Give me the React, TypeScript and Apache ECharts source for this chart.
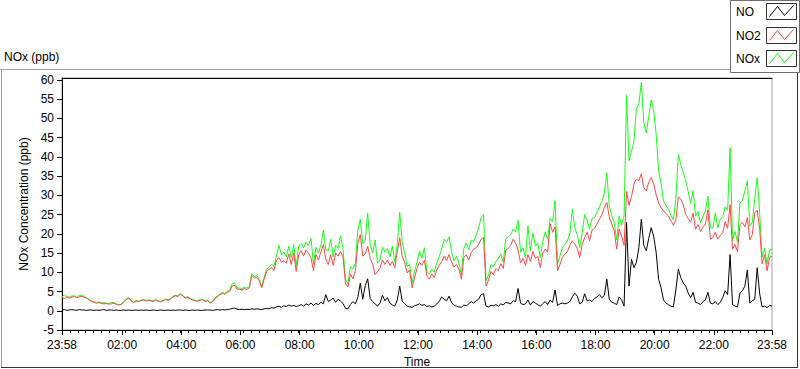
import React, { useEffect, useRef } from "react";
import * as echarts from "echarts";

// Time axis: minutes from midnight; first sample at 23:58 (-2), every 5 min
const START_MIN = -2;
const STEP_MIN = 5;

const NO2_VALUES = [
  3.4,3.2,3.6,3.3,3.5,3.7,3.4,3.6,3.8,3.5,3.3,2.8,
  2.4,2.2,2.0,2.1,1.9,1.8,1.9,1.7,1.8,2.0,1.6,1.5,
  1.6,2.2,2.9,3.3,2.6,2.1,2.5,2.4,2.6,2.8,2.5,2.7,
  2.6,2.4,2.8,2.5,2.3,2.6,2.9,2.7,3.0,3.6,3.9,3.7,
  4.3,3.8,3.3,3.5,3.1,2.8,2.6,2.5,2.7,2.9,2.4,2.6,
  2.0,2.3,3.1,3.6,4.1,4.5,4.3,4.8,5.0,6.4,6.6,5.6,
  5.6,5.4,5.8,5.5,6.0,9.2,8.5,8.7,7.8,6.0,8.2,10.2,
  10.8,11.2,10.5,13.2,13.8,12.6,13.0,12.4,14.8,12.0,15.0,10.2,
  14.5,15.6,14.2,15.8,14.9,13.8,10.4,14.6,13.2,15.3,17.2,13.5,
  12.0,14.6,11.8,15.0,14.2,15.4,13.9,7.0,6.2,9.6,8.3,10.4,
  17.5,19.8,14.2,14.8,16.8,13.6,12.2,9.4,10.2,11.0,13.2,12.0,
  13.2,11.8,12.8,11.2,15.4,19.0,14.2,12.6,9.8,10.6,6.0,8.6,
  11.0,12.6,11.8,13.2,9.0,8.2,9.6,8.6,10.6,11.8,12.8,14.2,
  13.0,14.6,12.8,11.4,12.0,10.8,8.2,13.8,14.6,13.2,15.2,16.0,
  16.4,17.2,18.6,19.0,6.4,8.0,10.2,9.4,11.0,10.4,12.2,11.0,
  15.8,16.2,17.0,18.6,17.6,15.8,12.4,13.6,11.8,14.6,12.8,15.4,
  13.6,14.2,11.2,15.0,16.0,15.2,22.6,20.4,21.8,10.4,12.0,14.0,
  14.6,15.4,17.0,18.2,17.4,16.2,13.8,17.2,19.0,20.4,18.2,21.0,
  21.4,22.6,23.8,25.0,26.8,28.2,24.4,22.6,20.8,16.0,21.2,19.4,
  17.0,31.0,27.4,29.6,33.0,34.2,33.8,35.6,32.0,31.2,33.4,34.6,
  33.0,30.2,28.0,26.8,26.0,25.2,24.6,23.4,22.2,23.6,29.6,29.0,
  27.6,25.0,24.0,23.0,25.4,21.2,22.4,20.6,21.8,22.6,26.2,18.6,
  19.0,20.4,18.6,19.6,20.2,23.2,21.4,27.6,16.0,17.2,15.4,22.4,
  23.0,21.8,24.2,18.4,19.8,25.4,26.2,21.2,12.2,14.6,10.4,13.8,
  14.2,
];

const NOX_VALUES = [
  3.6,4.2,3.7,3.5,3.8,3.9,3.5,4.0,4.0,3.7,3.4,3.0,
  2.6,2.3,2.2,2.2,2.1,2.1,2.0,1.9,2.2,2.1,1.8,1.6,
  1.7,2.4,3.0,3.5,2.7,2.2,2.7,2.5,2.8,2.9,2.7,2.8,
  2.7,2.6,2.9,2.6,2.5,2.7,3.0,2.9,3.1,3.8,4.0,3.9,
  4.5,3.9,3.5,3.6,3.2,3.0,2.7,2.7,2.8,3.0,2.6,2.8,
  2.2,2.4,3.3,3.9,4.3,4.8,4.5,5.1,5.4,7.0,7.3,6.0,
  5.9,5.8,6.1,5.9,6.3,9.7,8.9,9.2,8.2,6.3,8.7,10.8,
  11.3,12.0,11.6,14.3,17.0,14.5,15.2,14.0,16.8,13.8,17.2,11.5,
  16.8,17.5,16.4,17.8,16.9,18.8,12.1,16.5,15.0,17.0,21.0,15.8,
  15.5,18.6,14.0,17.0,16.2,19.5,16.0,8.2,7.0,11.4,10.8,12.3,
  21.0,23.8,17.5,18.0,25.4,17.2,15.0,18.4,12.4,13.2,16.5,15.2,
  16.2,14.0,16.8,12.6,17.2,25.6,17.8,15.0,11.5,12.0,7.2,10.2,
  12.6,15.5,13.6,16.4,10.2,9.6,10.8,10.0,12.4,14.0,16.0,18.6,
  17.8,19.2,15.4,13.0,14.2,12.4,9.4,16.2,17.6,15.8,18.4,18.0,
  19.6,21.5,24.2,25.0,7.8,9.2,12.0,11.4,12.8,13.6,14.8,12.6,
  18.8,19.2,19.8,21.2,20.5,23.5,15.2,16.4,13.8,22.0,15.6,20.2,
  16.8,17.6,13.8,18.0,20.4,18.6,24.0,23.2,28.6,12.2,14.2,16.6,
  17.2,18.2,20.0,26.4,21.6,19.8,16.4,20.2,25.0,23.4,21.2,24.0,
  24.2,25.6,27.0,28.4,30.6,35.8,27.2,24.8,23.0,18.4,24.6,22.2,
  24.8,56.0,39.0,41.5,44.0,52.6,53.8,59.4,49.0,46.2,50.5,54.8,
  52.0,46.0,36.4,33.2,28.4,27.4,26.4,24.8,23.6,29.0,40.6,38.0,
  36.0,33.8,31.0,28.0,31.2,24.6,25.8,22.8,24.6,26.0,29.8,21.6,
  21.4,25.4,21.6,23.8,24.4,27.0,26.2,42.4,18.2,20.6,17.8,28.0,
  28.6,31.2,33.8,22.0,23.0,29.0,34.6,25.4,14.0,16.2,12.2,15.8,
  16.0,
];

const NO_VALUES = [
  0.2,0.3,0.1,0.2,0.3,0.2,0.1,0.3,0.2,0.2,0.1,0.2,
  0.2,0.1,0.2,0.1,0.2,0.3,0.1,0.2,0.2,0.1,0.2,0.1,
  0.1,0.2,0.1,0.2,0.1,0.1,0.2,0.1,0.2,0.1,0.2,0.1,
  0.1,0.2,0.1,0.1,0.2,0.1,0.1,0.2,0.1,0.2,0.1,0.2,
  0.2,0.1,0.2,0.1,0.1,0.2,0.1,0.2,0.1,0.1,0.2,0.2,
  0.2,0.1,0.2,0.3,0.2,0.3,0.2,0.3,0.4,0.6,0.7,0.4,
  0.3,0.4,0.3,0.4,0.3,0.5,0.4,0.5,0.4,0.3,0.5,0.6,
  0.5,0.8,0.7,1.0,1.2,0.9,1.3,1.1,1.5,1.2,1.4,1.1,
  1.3,1.6,1.2,1.8,1.5,2.0,1.4,1.9,1.6,2.2,1.8,4.2,
  2.4,2.8,3.3,2.2,3.0,2.5,1.9,0.6,0.5,1.6,2.4,1.8,
  3.5,7.2,3.0,6.5,8.3,3.2,2.4,1.8,1.2,2.0,4.0,2.6,
  3.4,2.0,1.5,1.2,2.8,6.4,2.5,1.8,1.2,1.0,0.9,1.3,
  1.5,1.8,1.4,1.6,1.1,1.3,1.0,1.2,1.8,2.4,3.6,3.0,
  2.6,3.8,2.2,1.4,1.2,1.0,0.9,1.5,1.3,1.8,2.4,2.0,
  2.6,3.0,4.2,4.4,1.2,1.0,1.4,1.3,1.6,1.2,1.8,1.5,
  2.2,2.0,1.8,2.6,2.4,5.8,2.0,1.6,1.8,2.8,1.5,2.4,
  2.0,1.6,1.2,1.8,2.4,1.6,2.8,2.2,5.4,1.4,1.8,2.0,
  1.8,2.0,2.4,3.6,4.6,3.8,1.8,2.2,4.4,2.6,2.8,2.4,
  3.2,3.6,4.2,3.4,4.0,8.2,3.0,2.2,2.0,1.6,3.6,2.8,
  1.2,23.0,6.4,13.4,11.2,12.6,16.4,23.8,17.0,15.6,18.8,21.6,
  19.4,15.2,8.2,6.0,2.8,2.0,1.6,1.2,1.0,5.4,10.8,8.6,
  7.2,6.4,4.6,3.4,4.8,2.2,2.0,1.6,2.4,2.8,4.8,2.0,
  1.8,2.4,1.6,2.2,3.4,5.2,4.2,14.6,1.6,1.2,1.0,4.6,
  5.2,6.4,10.6,2.0,2.6,3.0,11.2,4.4,1.0,1.2,0.8,1.4,
  1.2,
];

const X_MIN = -2;
const X_MAX = 1438;
const X_MAJOR_TICKS = [-2, 120, 240, 360, 480, 600, 720, 840, 960, 1080, 1200, 1320, 1438];
const X_MINOR_STEP = 16;
const Y_TICKS = [-5, 0, 5, 10, 15, 20, 25, 30, 35, 40, 45, 50, 55, 60];
const Y_MIN = -5;
const Y_MAX = 60.5;

const SERIES_NAMES = ["NO", "NO2", "NOx"];
const SERIES_COLORS = ["#000000", "#ff4646", "#14ff14"];

const FONT = "Liberation Sans, Arial, sans-serif";

function toPairs(values: number[]) {
  return values.map((v, i) => [START_MIN + STEP_MIN * i, v]);
}

function fmtTime(v: number) {
  const m = ((Math.round(v) % 1440) + 1440) % 1440;
  const hh = Math.floor(m / 60);
  const mm = m % 60;
  return String(hh).padStart(2, "0") + ":" + String(mm).padStart(2, "0");
}

export default function App() {
  const ref = useRef<HTMLDivElement>(null);

  useEffect(() => {
    if (!ref.current) return;
    const chart = echarts.init(ref.current, undefined, { renderer: "svg" });

    const minorTicks: number[] = [];
    for (let t = X_MIN; t <= X_MAX; t += X_MINOR_STEP) minorTicks.push(t);

    const legendGraphics: any[] = [];
    const boxYs = [3, 27, 50];
    SERIES_NAMES.forEach((name, i) => {
      const by = boxYs[i];
      legendGraphics.push({
        type: "text",
        x: 736,
        y: by + 8.5,
        z: 101,
        style: { text: name, fill: "#000", fontSize: 12, fontFamily: FONT, verticalAlign: "middle" },
      });
      legendGraphics.push({
        type: "rect",
        z: 101,
        shape: { x: 766.5, y: by + 0.5, width: 30, height: 16 },
        style: { fill: "#fff", stroke: "#333", lineWidth: 1 },
      });
      const x0 = 766.5;
      const y0 = by + 0.5;
      legendGraphics.push({
        type: "polyline",
        z: 102,
        shape: { points: [[x0 + 3, y0 + 13], [x0 + 11, y0 + 3], [x0 + 18, y0 + 12], [x0 + 27, y0 + 2]] },
        style: { stroke: SERIES_COLORS[i], lineWidth: 1, fill: null },
      });
    });

    const option: any = {
      animation: false,
      backgroundColor: "#ffffff",
      textStyle: { fontFamily: FONT },
      grid: {
        left: 62,
        right: 28,
        top: 78,
        bottom: 39,
        outerBoundsMode: "none",
        containLabel: false,
        show: true,
        borderColor: "#a0a0a0",
        borderWidth: 1,
        backgroundColor: "#ffffff",
      },
      xAxis: [
        {
          type: "value",
          min: X_MIN,
          max: X_MAX,
          position: "bottom",
          name: "Time",
          nameLocation: "middle",
          nameGap: 18,
          nameTextStyle: { color: "#000", fontSize: 12, fontFamily: FONT },
          axisLine: { show: true, onZero: false, lineStyle: { color: "#000", width: 1 } },
          axisTick: { show: true, customValues: X_MAJOR_TICKS, length: 5, lineStyle: { color: "#000" } },
          axisLabel: { customValues: X_MAJOR_TICKS, formatter: fmtTime, color: "#000", fontSize: 12, margin: 9, fontFamily: FONT },
          splitLine: { show: false },
        },
        {
          type: "value",
          min: X_MIN,
          max: X_MAX,
          position: "bottom",
          axisLine: { show: false, onZero: false },
          axisTick: { show: true, customValues: minorTicks, length: 3, lineStyle: { color: "#000" } },
          axisLabel: { show: false },
          splitLine: { show: false },
        },
        {
          type: "value",
          min: X_MIN,
          max: X_MAX,
          position: "top",
          axisLine: { show: true, onZero: false, lineStyle: { color: "#000", width: 1 } },
          axisTick: { show: false },
          axisLabel: { show: false },
          splitLine: { show: false },
        },
      ],
      yAxis: {
        type: "value",
        min: Y_MIN,
        max: Y_MAX,
        name: "NOx Concentration (ppb)",
        nameLocation: "middle",
        nameGap: 19,
        nameTextStyle: { color: "#000", fontSize: 12, fontFamily: FONT },
        axisLine: { show: true, onZero: false, lineStyle: { color: "#000", width: 1 } },
        axisTick: { show: true, customValues: Y_TICKS, length: 5, lineStyle: { color: "#000" } },
        axisLabel: { customValues: Y_TICKS, color: "#000", fontSize: 12, margin: 8, fontFamily: FONT },
        splitLine: { show: false },
      },
      series: [
        {
          name: "NOx",
          type: "line",
          xAxisIndex: 0,
          data: toPairs(NOX_VALUES),
          showSymbol: false,
          symbol: "none",
          lineStyle: { color: SERIES_COLORS[2], width: 1 },
          itemStyle: { color: SERIES_COLORS[2] },
          z: 2,
        },
        {
          name: "NO2",
          type: "line",
          xAxisIndex: 0,
          data: toPairs(NO2_VALUES),
          showSymbol: false,
          symbol: "none",
          lineStyle: { color: SERIES_COLORS[1], width: 1 },
          itemStyle: { color: SERIES_COLORS[1] },
          z: 3,
        },
        {
          name: "NO",
          type: "line",
          xAxisIndex: 0,
          data: toPairs(NO_VALUES),
          showSymbol: false,
          symbol: "none",
          lineStyle: { color: SERIES_COLORS[0], width: 1 },
          itemStyle: { color: SERIES_COLORS[0] },
          z: 4,
        },
      ],
      graphic: [
        {
          type: "text",
          x: 4,
          y: 57,
          style: { text: "NOx (ppb)", fill: "#000", fontSize: 12, fontFamily: FONT, verticalAlign: "middle" },
        },
        { type: "line", shape: { x1: 0, y1: 69.5, x2: 731, y2: 69.5 }, style: { stroke: "#a0a0a0", lineWidth: 1 } },
        { type: "line", shape: { x1: 1.5, y1: 69.5, x2: 1.5, y2: 367 }, style: { stroke: "#a0a0a0", lineWidth: 1 } },
        { type: "line", shape: { x1: 1, y1: 367.5, x2: 798, y2: 367.5 }, style: { stroke: "#333", lineWidth: 1 } },
        { type: "line", shape: { x1: 797.5, y1: 72, x2: 797.5, y2: 368 }, style: { stroke: "#333", lineWidth: 1 } },
        {
          type: "rect",
          z: 100,
          shape: { x: 730.5, y: 0.5, width: 69, height: 72 },
          style: { fill: "#fff", stroke: "#6e6e6e", lineWidth: 1 },
        },
        ...legendGraphics,
      ],
    };

    chart.setOption(option);
    return () => chart.dispose();
  }, []);

  return (
    <div
      ref={ref}
      style={{ position: "fixed", left: 0, top: 0, width: 800, height: 369, background: "#fff" }}
    />
  );
}
